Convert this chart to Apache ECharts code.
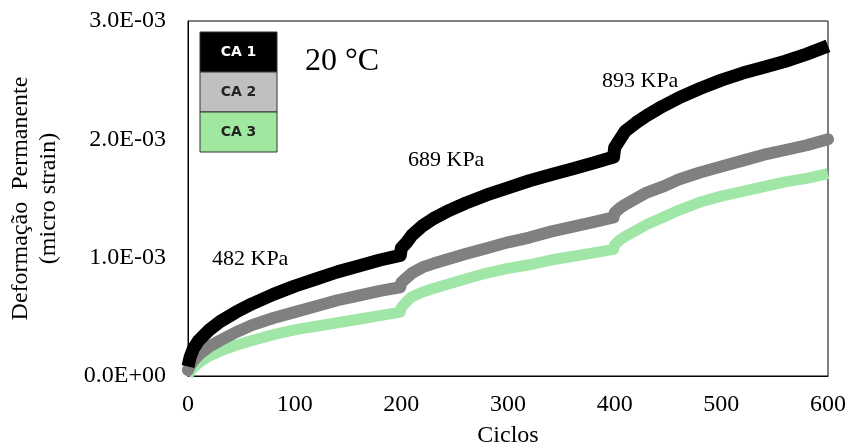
<!DOCTYPE html>
<html>
<head>
<meta charset="utf-8">
<script src="https://cdn.jsdelivr.net/npm/echarts@6/dist/echarts.min.js"></script>
<style>
  html, body { margin: 0; padding: 0; background: #fff; }
  #chart { width: 850px; height: 448px; }
</style>
</head>
<body>
<div id="chart"></div>
<script>
// Permanent deformation vs. load cycles for three mixtures at 20 °C
const seriesNames = ['CA 1', 'CA 2', 'CA 3'];
const cycles = [0, 2, 5, 10, 20, 30, 45, 60, 80, 100, 120, 140, 160, 180, 199,
  200, 205, 210, 220, 230, 245, 260, 280, 300, 320, 340, 360, 380, 399,
  400, 405, 410, 420, 430, 445, 460, 480, 500, 520, 540, 560, 580, 600];
const ca1 = [0.00008, 0.00016, 0.00023, 0.00030, 0.00039, 0.00046, 0.00054, 0.00061, 0.00069, 0.00076, 0.00082, 0.00088, 0.00093, 0.00098, 0.00102,
  0.00108, 0.00113, 0.00119, 0.00127, 0.00133, 0.00140, 0.00146, 0.00153, 0.00159, 0.00165, 0.00170, 0.00175, 0.00180, 0.00185,
  0.00193, 0.00200, 0.00207, 0.00214, 0.00220, 0.00228, 0.00235, 0.00243, 0.00250, 0.00256, 0.00261, 0.00266, 0.00272, 0.00279];
const ca2 = [0.00005, 0.00009, 0.00013, 0.00018, 0.00025, 0.00030, 0.00037, 0.00043, 0.00049, 0.00054, 0.00059, 0.00064, 0.00068, 0.00072, 0.00075,
  0.00079, 0.00083, 0.00087, 0.00092, 0.00095, 0.00099, 0.00103, 0.00108, 0.00113, 0.00117, 0.00122, 0.00126, 0.00130, 0.00134,
  0.00138, 0.00142, 0.00145, 0.00150, 0.00155, 0.00160, 0.00166, 0.00172, 0.00177, 0.00182, 0.00187, 0.00191, 0.00195, 0.00200];
const ca3 = [0.00000, 0.00004, 0.00007, 0.00011, 0.00017, 0.00021, 0.00026, 0.00030, 0.00035, 0.00039, 0.00042, 0.00045, 0.00048, 0.00051, 0.00054,
  0.00058, 0.00063, 0.00067, 0.00071, 0.00074, 0.00078, 0.00082, 0.00087, 0.00091, 0.00094, 0.00098, 0.00101, 0.00104, 0.00107,
  0.00111, 0.00115, 0.00118, 0.00123, 0.00128, 0.00134, 0.00140, 0.00147, 0.00152, 0.00156, 0.00160, 0.00164, 0.00167, 0.00171];
const stressLabels = ['482 KPa', '689 KPa', '893 KPa'];
const tempLabel = '20 °C';
const xTitle = 'Ciclos';
const yTitle = 'Deformação  Permanente\n(micro strain)';

const lineColors = ['#000000', '#808080', '#a0e6a6'];
const keyColors = ['#000000', '#c0c0c0', '#a0e8a0'];
const keyText = ['#ffffff', '#222222', '#222222'];
const widths = [13, 12, 11];
const valueSets = [ca1, ca2, ca3];

const serif = '"Liberation Serif", "Times New Roman", serif';

function sci(v) {
  if (v === 0) return '0.0E+00';
  const e = Math.floor(Math.log10(Math.abs(v)) + 1e-9);
  const m = v / Math.pow(10, e);
  return m.toFixed(1) + 'E' + (e < 0 ? '-' : '+') + String(Math.abs(e)).padStart(2, '0');
}

const chart = echarts.init(document.getElementById('chart'), null, { renderer: 'canvas' });

const series = seriesNames.map((name, i) => ({
  name,
  type: 'line',
  showSymbol: false,
  symbol: 'none',
  animation: false,
  data: cycles.map((c, k) => [c, valueSets[i][k]]),
  lineStyle: { color: lineColors[i], width: widths[i], cap: i === 1 ? 'round' : 'butt', join: 'round' },
  z: 3 - i
}));

// key boxes drawn as a stacked block
const keyX = 200, keyY = 32, keyW = 77, keyH = 40;
const keyGraphics = [];
seriesNames.forEach((name, i) => {
  keyGraphics.push({
    type: 'rect',
    shape: { x: keyX, y: keyY + i * keyH, width: keyW, height: keyH },
    style: { fill: keyColors[i], stroke: '#333', lineWidth: 1 },
    z: 10
  });
  keyGraphics.push({
    type: 'text',
    x: keyX + keyW / 2,
    y: keyY + i * keyH + keyH / 2,
    style: {
      text: name, fill: keyText[i], font: 'bold 14px "DejaVu Sans", sans-serif',
      align: 'center', verticalAlign: 'middle'
    },
    z: 11
  });
});

const textGraphics = [
  { type: 'text', x: 305, y: 62, style: { text: tempLabel, font: '32px ' + serif, fill: '#000', verticalAlign: 'middle' }, z: 12 },
  { type: 'text', x: 212, y: 259, style: { text: stressLabels[0], font: '22px ' + serif, fill: '#000', verticalAlign: 'middle' }, z: 12 },
  { type: 'text', x: 408, y: 160, style: { text: stressLabels[1], font: '22px ' + serif, fill: '#000', verticalAlign: 'middle' }, z: 12 },
  { type: 'text', x: 602, y: 81, style: { text: stressLabels[2], font: '22px ' + serif, fill: '#000', verticalAlign: 'middle' }, z: 12 }
];

chart.setOption({
  animation: false,
  backgroundColor: '#ffffff',
  grid: {
    left: 188, right: 22, top: 21, bottom: 72,
    containLabel: false, outerBoundsMode: 'none',
    show: true, borderColor: '#000', borderWidth: 1, backgroundColor: 'transparent'
  },
  xAxis: {
    type: 'value', min: 0, max: 600, interval: 100,
    name: xTitle, nameLocation: 'middle', nameGap: 48,
    nameTextStyle: { fontFamily: serif, fontSize: 24, color: '#000' },
    axisLine: { show: true, lineStyle: { color: '#000', width: 1 } },
    axisTick: { show: false },
    splitLine: { show: false },
    axisLabel: { fontFamily: serif, fontSize: 24, color: '#000', margin: 17 }
  },
  yAxis: {
    type: 'value', min: 0, max: 0.003, interval: 0.001,
    name: yTitle, nameLocation: 'middle', nameGap: 125,
    nameTextStyle: { fontFamily: serif, fontSize: 24, color: '#000', lineHeight: 28, align: 'center' },
    axisLine: { show: true, lineStyle: { color: '#000', width: 1 } },
    axisTick: { show: false },
    splitLine: { show: false },
    axisLabel: { fontFamily: serif, fontSize: 24, color: '#000', margin: 22, formatter: sci }
  },
  series,
  graphic: keyGraphics.concat(textGraphics)
});
</script>
</body>
</html>
